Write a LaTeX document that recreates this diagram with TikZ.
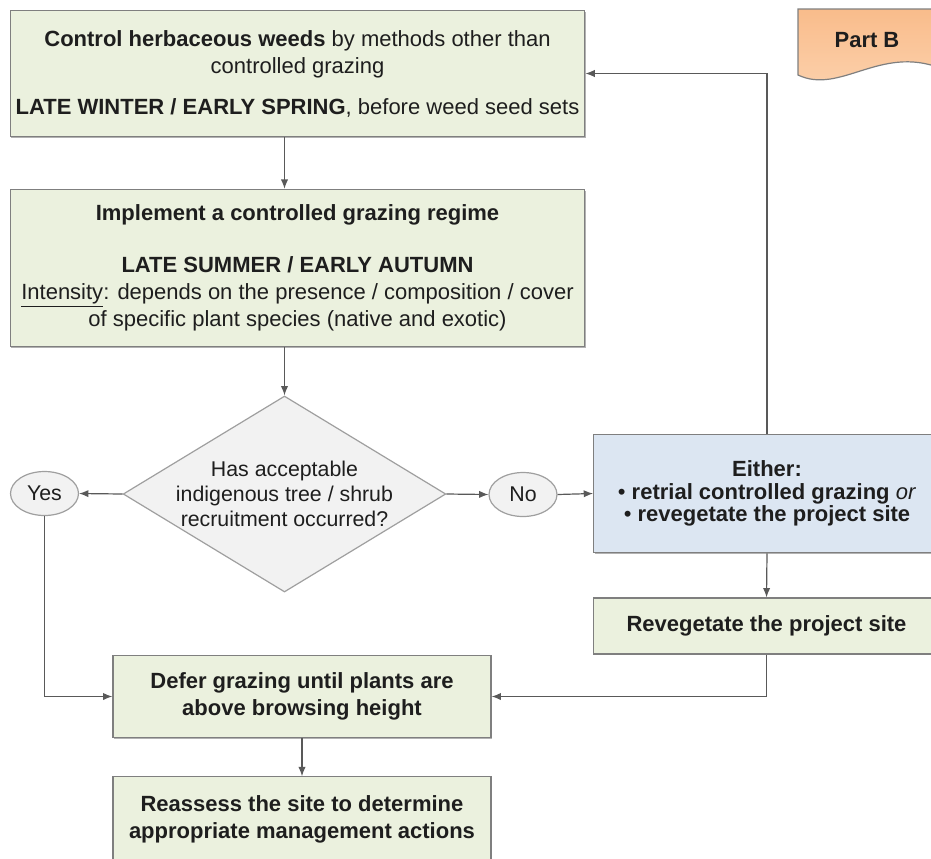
\documentclass[tikz,border=0pt]{standalone}
\usepackage{fontspec}
\setmainfont{Liberation Sans}
\usetikzlibrary{arrows.meta,shapes.geometric,shadows}
\definecolor{boxgreen}{HTML}{EBF1DE}
\definecolor{boxblue}{HTML}{DCE6F2}
\definecolor{boxgray}{HTML}{F2F2F2}
\definecolor{parttop}{HTML}{F9BC8B}
\definecolor{partbottom}{HTML}{FCD2AE}
\definecolor{edgegray}{HTML}{7F7F7F}
\definecolor{arrowgray}{HTML}{595959}
\definecolor{inkblack}{HTML}{1E1E1E}

\begin{document}
\begin{tikzpicture}[->, -{Latex[length=7pt,width=5.5pt]}, x=0.75pt, y=-0.75pt, line width=0.9pt,
  every edge/.append style={draw=arrowgray},
  box/.style={rectangle, draw=edgegray, fill=boxgreen, align=center, text=inkblack, inner sep=2pt,
    font=\fontsize{16.5}{20.25}\selectfont,
    drop shadow={shadow xshift=0.9pt, shadow yshift=-1.1pt, fill=black!55, opacity=0.55}},
  decision/.style={diamond, aspect=1.65, draw=edgegray!75, fill=boxgray, align=center, text=inkblack,
    inner sep=-3pt, font=\fontsize{16}{19}\selectfont},
  answer/.style={ellipse, draw=edgegray!75, fill=boxgray, text=inkblack, inner sep=1pt,
    minimum width=51pt, minimum height=33pt, font=\fontsize{16}{19}\selectfont},
  elbow/.style={to path={|- (\tikztotarget)}}]
  \useasboundingbox (0,0) rectangle (931,858);

  \node[box, minimum width=431pt, minimum height=95pt] (weeds) at (297.5,73.5)
    {\textbf{Control herbaceous weeds} by methods other than\\controlled grazing\\[10.5pt]
     \textbf{LATE WINTER / EARLY SPRING}, before weed seed sets};
  \node[box, minimum width=431pt, minimum height=118pt] (grazing) at (297.5,268)
    {\textbf{Implement a controlled grazing regime}\\[18.75pt]\textbf{LATE SUMMER / EARLY AUTUMN}\\
     \underline{Intensity}: depends on the presence / composition / cover\\of specific plant species (native and exotic)};
  \node[decision, minimum width=242pt, minimum height=147pt] (test) at (284.5,494)
    {Has acceptable\\indigenous tree / shrub\\recruitment occurred?};
  \node[answer] (yes) at (44.5,493.5) {Yes};
  \node[answer] (no) at (523,494.5) {No};
  \node[box, fill=boxblue, minimum width=260pt, minimum height=89pt, font=\fontsize{16.5}{17}\selectfont] (either) at (767,493.5)
    {\textbf{Either:}\\\textbullet\ \textbf{retrial controlled grazing} \textit{or}\\\textbullet\ \textbf{revegetate the project site}};
  \node[box, minimum width=260pt, minimum height=42pt] (reveg) at (766.5,626) {\textbf{Revegetate the project site}};
  \node[box, minimum width=283.5pt, minimum height=62pt] (defer) at (302,696.5)
    {\textbf{Defer grazing until plants are}\\\textbf{above browsing height}};
  \node[box, minimum width=283.5pt, minimum height=64pt] (reassess) at (302,819.5)
    {\textbf{Reassess the site to determine}\\\textbf{appropriate management actions}};

  \path[draw=edgegray, top color=parttop, bottom color=partbottom] (798,9) -- (940,9) -- (940,68)
    .. controls (880,45) and (840,95) .. (798,75) -- cycle;
  \node[font=\fontsize{16.5}{20}\selectfont\bfseries, text=inkblack] (partb) at (867,40) {Part B};

  \path (weeds.south -| test.north) edge (grazing.north -| test.north)
        (grazing.south -| test.north) edge (test.north)
        (test.west) edge (yes.east)
        (test.east) edge (no.west)
        (no.east) edge (either.west)
        (either.north) edge[elbow] (weeds.east)
        (either.south) edge (reveg.north)
        (reveg.south) edge[elbow] (defer.east)
        (yes.south) edge[elbow] (defer.west)
        (defer.south) edge (reassess.north);
\end{tikzpicture}
\end{document}
